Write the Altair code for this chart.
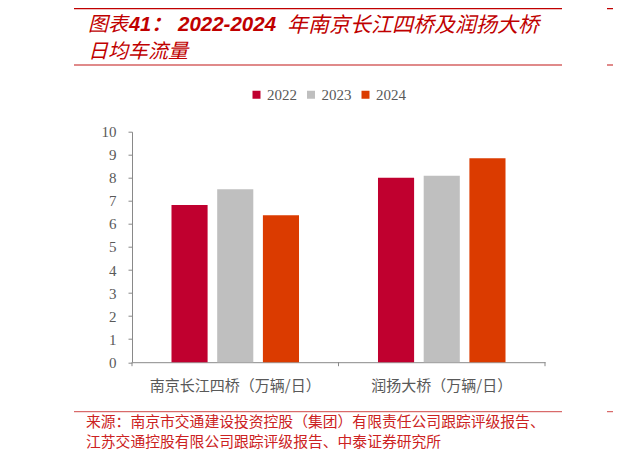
import altair as alt
import pandas as pd

# ---------------- data ----------------
bridges = ["南京长江四桥（万辆/日）", "润扬大桥（万辆/日）"]
years = ["2022", "2023", "2024"]
values_2022 = [6.82, 8.00]
values_2023 = [7.50, 8.09]
values_2024 = [6.37, 8.85]
year_colors = ["#C0002F", "#BFBFBF", "#DB3B00"]
y_ticks = list(range(0, 11))

title_parts = ["图表", "41：", "2022-2024", "年南京长江四桥及润扬大桥"]
title_line2 = "日均车流量"
source_lines = [
    "来源：南京市交通建设投资控股（集团）有限责任公司跟踪评级报告、",
    "江苏交通控股有限公司跟踪评级报告、中泰证券研究所",
]

rows = []
for yr, vals in zip(years, [values_2022, values_2023, values_2024]):
    for b, v in zip(bridges, vals):
        rows.append({"bridge": b, "year": yr, "value": v})
df = pd.DataFrame(rows)

# ---------------- layout ----------------
W, H = 413, 230.5
OX, OY = 132, 131.7  # page position of plot origin


def px(x):
    return x - OX


def py(y):
    return y - OY


AXIS_GRAY = "#898989"
LABEL_GRAY = "#595959"
TITLE_RED = "#C00000"

bars = alt.Chart(df).mark_bar().encode(
    x=alt.X(
        "bridge:N",
        sort=bridges,
        scale=alt.Scale(paddingInner=0, paddingOuter=0),
        axis=alt.Axis(
            title=None,
            labelAngle=0,
            ticks=False,
            domainColor=AXIS_GRAY,
            labelFont="Noto Sans CJK SC",
            labelFontSize=15,
            labelColor=LABEL_GRAY,
            labelPadding=16,
        ),
    ),
    xOffset=alt.XOffset(
        "year:N", sort=years, scale=alt.Scale(paddingInner=0.21, paddingOuter=0.864)
    ),
    y=alt.Y(
        "value:Q",
        scale=alt.Scale(domain=[0, 10], nice=False),
        axis=alt.Axis(
            values=y_ticks,
            title=None,
            grid=False,
            domainColor=AXIS_GRAY,
            tickColor=AXIS_GRAY,
            tickSize=4,
            labelFont="Liberation Serif",
            labelFontSize=15,
            labelColor=LABEL_GRAY,
            labelPadding=12,
        ),
    ),
    color=alt.Color(
        "year:N",
        sort=years,
        scale=alt.Scale(domain=years, range=year_colors),
        legend=alt.Legend(
            orient="none",
            legendX=px(249),
            legendY=py(87),
            direction="horizontal",
            title=None,
            symbolType="square",
            symbolSize=64,
            symbolStrokeWidth=0,
            labelFont="Liberation Serif",
            labelFontSize=15,
            labelColor=LABEL_GRAY,
            labelOffset=3,
            columnPadding=6.5,
            padding=0,
        ),
    ),
)

# x-axis tick marks at category boundaries
xticks = alt.Chart(pd.DataFrame({"bridge": bridges})).mark_rule(
    color=AXIS_GRAY, strokeWidth=1
).encode(
    x=alt.X("bridge:N", sort=bridges, bandPosition=0),
    y=alt.value(H),
    y2=alt.value(H + 4),
)
end_tick = alt.Chart(pd.DataFrame({"a": [0]})).mark_rule(
    color=AXIS_GRAY, strokeWidth=1
).encode(x=alt.value(W), y=alt.value(H), y2=alt.value(H + 4))


def text_layer(s, x, y, **kw):
    return alt.Chart(pd.DataFrame({"t": [s]})).mark_text(
        align="left", baseline="middle", **kw
    ).encode(text="t:N", x=alt.value(px(x)), y=alt.value(py(y)))


def hrule(x1, x2, y, color, w):
    return alt.Chart(pd.DataFrame({"a": [0]})).mark_rule(
        color=color, strokeWidth=w
    ).encode(x=alt.value(px(x1)), x2=alt.value(px(x2)), y=alt.value(py(y)))


cjk = "Noto Sans CJK SC"
layers = [
    bars,
    xticks,
    end_tick,
    # title
    text_layer(title_parts[0], 88, 25, font=cjk, fontSize=20, fontStyle="italic", color=TITLE_RED),
    text_layer(title_parts[1], 129, 25, font="Liberation Sans, Noto Sans CJK SC", fontSize=20,
               fontStyle="italic", fontWeight="bold", color=TITLE_RED),
    text_layer(title_parts[2], 178, 25, font="Liberation Sans", fontSize=20.5,
               fontStyle="italic", fontWeight="bold", color=TITLE_RED),
    text_layer(title_parts[3], 287, 25.5, font=cjk, fontSize=21, fontStyle="italic", color=TITLE_RED),
    text_layer(title_line2, 88, 52, font=cjk, fontSize=20, fontStyle="italic", color=TITLE_RED),
    # rules
    hrule(74, 562, 8, TITLE_RED, 2.5),
    hrule(607, 621, 8, TITLE_RED, 2.5),
    hrule(74, 562, 65, "#E08A8A", 2),
    hrule(607, 621, 65, "#E08A8A", 2),
    hrule(74, 562, 411.7, "#D04848", 1),
    hrule(607, 621, 411.7, "#D04848", 1),
    # source
    text_layer(source_lines[0], 86, 423, font=cjk, fontSize=14.8, color="#CC2222"),
    text_layer(source_lines[1], 86, 442.5, font=cjk, fontSize=14.8, color="#CC2222"),
]

chart = alt.layer(*layers).properties(
    width=W,
    height=H,
    autosize="none",
    padding={"left": OX - 8, "top": OY - 8, "right": 605 - (OX - 8) - W, "bottom": 443 - (OY - 8) - H},
).configure_view(stroke=None)

chart.save("out.html", embed_options={"renderer": "svg", "actions": False})
